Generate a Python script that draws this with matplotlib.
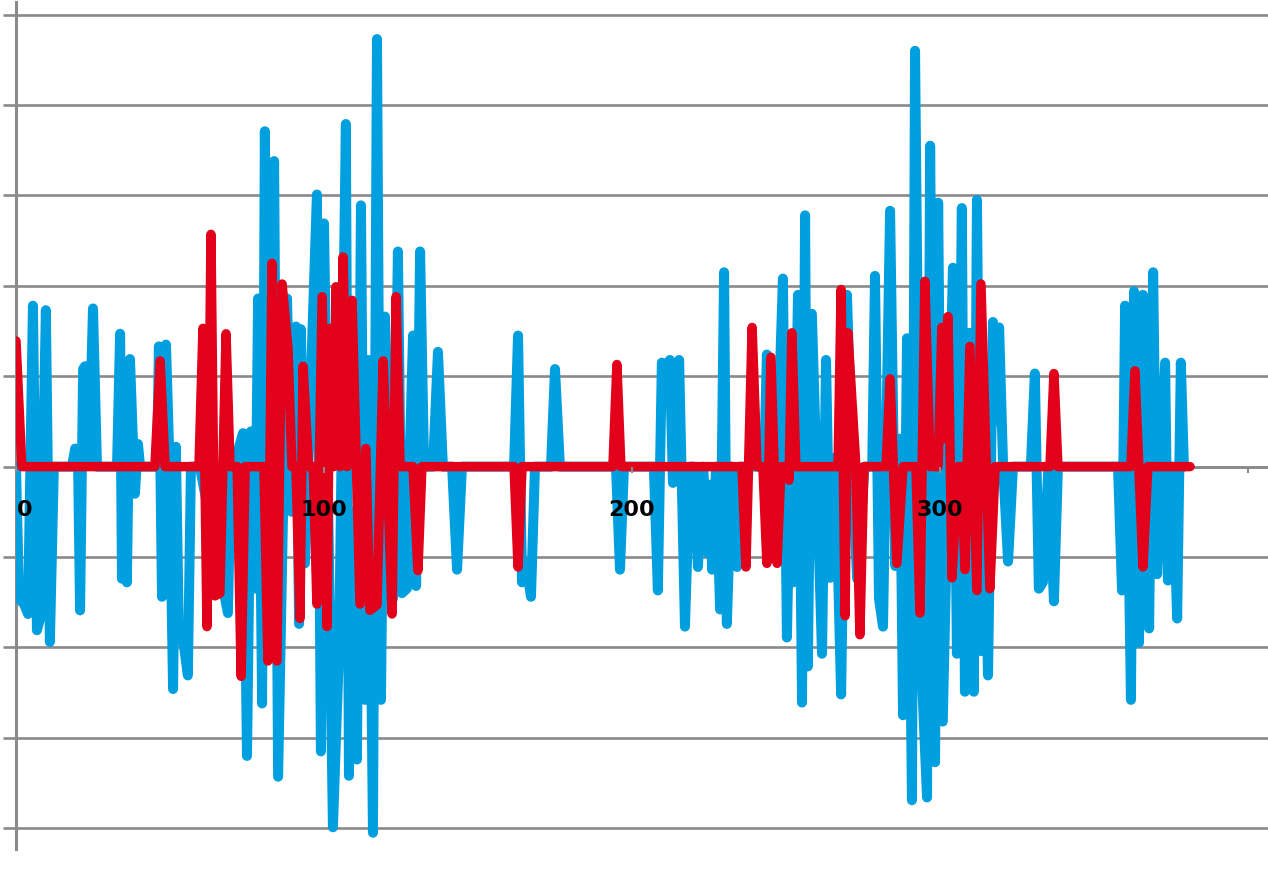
import matplotlib
matplotlib.use("Agg")
import matplotlib.pyplot as plt
import matplotlib.transforms as mtransforms


# -----------------------------
# Data
# -----------------------------

blue_x = [
    0, 1.0, 2.6, 3.9, 5.5, 6.8, 7.8, 9.7, 11.0, 12.3,
    18.2, 19.2, 20.1, 20.8, 21.8, 22.4, 23.7, 25.0, 26.3,
    32.8, 33.8, 34.4, 35.4, 36.0, 37.0, 38.0, 38.6, 39.6, 40.3,
    45.8, 46.4, 47.4, 48.7, 49.7, 51.0, 51.9, 52.9, 54.2, 55.8, 56.8,
    59.7, 68.8, 69.8, 71.8, 73.7, 75.0, 76.3, 77.6, 78.6, 79.9,
    80.8, 82.1, 83.8, 85.1, 88.0, 89.5, 90.9, 91.9, 92.5, 93.8,
    97.7, 99.0, 100.0, 102.9, 104.9, 107.1, 108.1, 109.4, 110.7, 112.0,
    113.3, 114.3, 115.9, 117.2, 118.5, 119.8, 122.4, 124.0, 125.3, 126.9,
    127.9, 128.9, 129.9, 131.2, 132.5,
    135.4, 137.0, 138.6, 141.6, 143.2, 144.8,
    161.7, 163.0, 164.3, 165.6, 167.2, 168.5, 173.7, 175.0, 176.6,
    194.8, 196.1, 197.4,
    207.1, 208.4, 209.7, 211.0, 212.3, 213.3, 215.3, 217.2, 218.8, 220.1,
    221.4, 223.1, 224.7, 225.3, 226.0, 227.3, 228.6, 229.9, 230.8, 232.4,
    234.1, 235.1,
    242.9, 243.8, 246.5, 249.0, 250.3, 251.3, 252.3, 253.9, 255.2, 256.2,
    257.1, 258.4, 261.7, 263.0, 264.3, 266.0, 267.9, 269.8, 271.5, 273.1,
    275.5, 278.0, 278.9, 280.2, 281.5, 283.8, 285.5, 287.0, 288.0, 289.3,
    290.9, 291.9, 293.8, 295.8, 296.8, 298.4, 299.4, 300.9, 304.2, 305.5,
    307.1, 308.1, 309.7, 311.0, 312.0, 313.3, 314.4, 315.6, 317.2, 318.2,
    319.2, 320.5, 322.1, 323.7,
    329.5, 330.8, 332.1, 333.4, 335.2, 337.0, 338.3,
    357.8, 359.1, 360.1, 362.0, 363.0, 364.6, 365.9, 367.9, 369.2, 370.5,
    373.1, 374.0, 375.5, 377.0, 378.2, 379.2,
]
blue_y = [
    0, -1.46, -1.52, -1.63, 1.78, -1.81, -1.68, 1.73, -1.94, 0,
    0, 0.2, 0.18, -1.59, 1.08, 1.11, 0.1, 1.75, 0,
    0, 1.47, -1.24, 1.11, -1.28, 1.19, 0.25, -0.3, 0.25, 0,
    0, 1.33, -1.44, 1.35, 0.2, -2.46, 0.22, -1.87, -1.9, -2.31, 0,
    0, -1.62, 0, 0.14, 0.37, -3.2, 0.39, -1.35, 1.86, -2.62,
    3.71, -1.68, 3.38, -3.43, 1.86, -0.5, 1.55, -1.74, 1.52, -1.07,
    3.01, -3.15, 2.69, -3.99, -2.01, 3.79, -3.42, -0.5, -3.24, 2.89,
    -2.58, 1.18, -4.05, 4.73, -2.58, 1.66, -1.46, 2.38, -1.4, -1.35,
    0.19, 1.45, -1.32, 2.38, 0,
    0, 1.27, 0, 0, -1.14, 0,
    0, 1.45, -1.28, -1.07, -1.44, 0, 0, 1.08, 0,
    0, -1.14, 0,
    0, -1.37, 1.15, 1.11, 1.18, -0.18, 1.18, -1.77, 0, 0,
    -1.11, 0, -0.96, -0.2, -1.14, 0, -1.58, 2.15, -1.74, 0,
    -1.11, 0,
    0, 1.24, -0.6, 2.08, -1.89, -0.1, -1.28, 1.9, -2.61, 2.78,
    -2.21, 1.69, -2.07, 1.18, -1.23, 0.1, -2.52, 1.9, 0, -1.24,
    0, 0, 2.11, -1.46, -1.77, 2.83, -1.1, 0.31, -2.75, 1.42,
    -3.69, 4.6, -2.07, -3.66, 3.55, -3.27, 2.92, -2.82, 2.2, -2.07,
    2.86, -2.49, 1.48, -2.49, 2.95, -2.04, -0.6, -2.31, 1.6, 0.5,
    1.54, 0, -1.05, 0,
    0, 1.03, -1.35, -1.28, 0, -1.49, 0,
    0, -1.37, 1.78, -2.58, 1.94, -1.95, 1.9, -1.79, 2.15, -1.19,
    1.15, -1.26, 0, -1.68, 1.15, 0,
]

red_x = [
    0, 1.9, 45.1, 46.8, 48.4, 59.4, 60.7, 62.0, 63.3, 64.6,
    66.2, 68.2, 69.5, 71.8, 73.1, 74.4, 80.5, 81.8, 83.1, 84.7,
    86.4, 88.3, 89.6, 90.9, 92.2, 93.2, 95.0, 96.5, 97.7, 99.4,
    101.0, 101.9, 103.2, 103.9, 105.2, 106.2, 107.5, 109.1, 111.7, 113.6,
    114.9, 117.2, 119.2, 120.5, 122.1, 123.4, 124.7, 128.9, 130.5, 131.8,
    161.7, 163.0, 164.3, 193.8, 195.1, 196.4,
    235.7, 237.0, 239.0, 240.6, 242.5, 243.8, 245.1, 247.1, 248.4, 250.3,
    251.0, 251.9, 253.2, 266.9, 267.9, 269.2, 270.1, 272.7, 274.0, 275.3,
    282.5, 283.8, 286.0, 288.0, 292.2, 293.5, 295.1, 296.8, 299.4, 300.6,
    301.6, 302.6, 303.9, 305.8, 307.0, 308.1, 309.7, 312.0, 313.3, 316.2,
    317.9, 335.7, 337.0, 338.3, 362.0, 363.3, 365.9, 367.5, 381.2,
]
red_y = [
    1.39, 0, 0, 1.17, 0, 0, 1.53, -1.77, 2.57, -1.43,
    -1.4, 1.47, 0, 0, -2.32, 0, 0, -2.15, 2.25, -2.15,
    2.02, 1.31, 0, 0, -1.68, 1.11, 0, 0, -1.52, 1.88,
    -1.77, 1.53, 0, 1.99, 0, 2.32, 0, 1.84, -1.52, 0.2,
    -1.59, -1.53, 1.17, 0, -1.63, 1.88, 0, 0, -1.15, 0,
    0, -1.11, 0, 0, 1.13, 0,
    0, -1.11, 1.54, 0, 0, -1.07, 1.21, -1.07, 0, 0,
    -0.15, 1.48, 0, 0, 1.96, -1.65, 1.48, 0, -1.86, 0,
    0, 0.97, -1.07, 0, 0, -1.62, 2.05, 0, 0, 1.54,
    0.31, 1.66, -1.23, 0, 0, -1.14, 1.33, -1.37, 2.02, -1.35,
    0, 0, 1.03, 0, 0, 1.06, -1.11, 0, 0,
]

x_ticks = [0, 100, 200, 300, 400]
x_tick_labels = ["0", "100", "200", "300", ""]
y_grid = [-4, -3, -2, -1, 0, 1, 2, 3, 4, 5]


# -----------------------------
# Styling
# -----------------------------

blue = "#009fe0"
red = "#e2001a"
grey = "#8a8a8a"

W, H = 1268, 887
fig = plt.figure(figsize=(W / 100, H / 100), dpi=100)
ax = fig.add_axes([16 / W, 1 - 850 / H, 1 - 16 / W, (850 - 3) / H])

ax.plot(blue_x, blue_y, color=blue, lw=7.2,
        solid_joinstyle="round", solid_capstyle="round", zorder=3)
ax.plot(red_x, red_y, color=red, lw=6.8,
        solid_joinstyle="round", solid_capstyle="round", zorder=4)

ax.set_xlim(0, 406.5)
ax.set_ylim(-4.23, 5.14)

# spines first: moving a spine resets the ticks
for side in ["top", "right"]:
    ax.spines[side].set_visible(False)
ax.spines["bottom"].set_position(("data", 0))
ax.spines["bottom"].set_color(grey)
ax.spines["bottom"].set_linewidth(1.9)
ax.spines["left"].set_color(grey)
ax.spines["left"].set_linewidth(2.2)

# horizontal grid
ax.set_yticks(y_grid)
ax.set_yticklabels([])
ax.yaxis.grid(True, color=grey, lw=1.9)
ax.set_axisbelow(True)
ax.tick_params(axis="y", direction="out", length=9.5, width=1.9, color=grey)

# x axis sits on the zero line, labels drawn over the traces
ax.set_xticks(x_ticks)
ax.tick_params(axis="x", direction="out", length=4, width=1.5, color=grey,
               pad=19)
ax.set_xticklabels(x_tick_labels, fontsize=16, fontweight="heavy",
                   color="black")
ax.xaxis.set_zorder(5)

# nudge the "0" label off the spine
offset = mtransforms.ScaledTranslation(9 / 100, 0, fig.dpi_scale_trans)
first = ax.get_xticklabels()[0]
first.set_transform(first.get_transform() + offset)

fig.savefig("out.png", dpi=100, facecolor="white")
